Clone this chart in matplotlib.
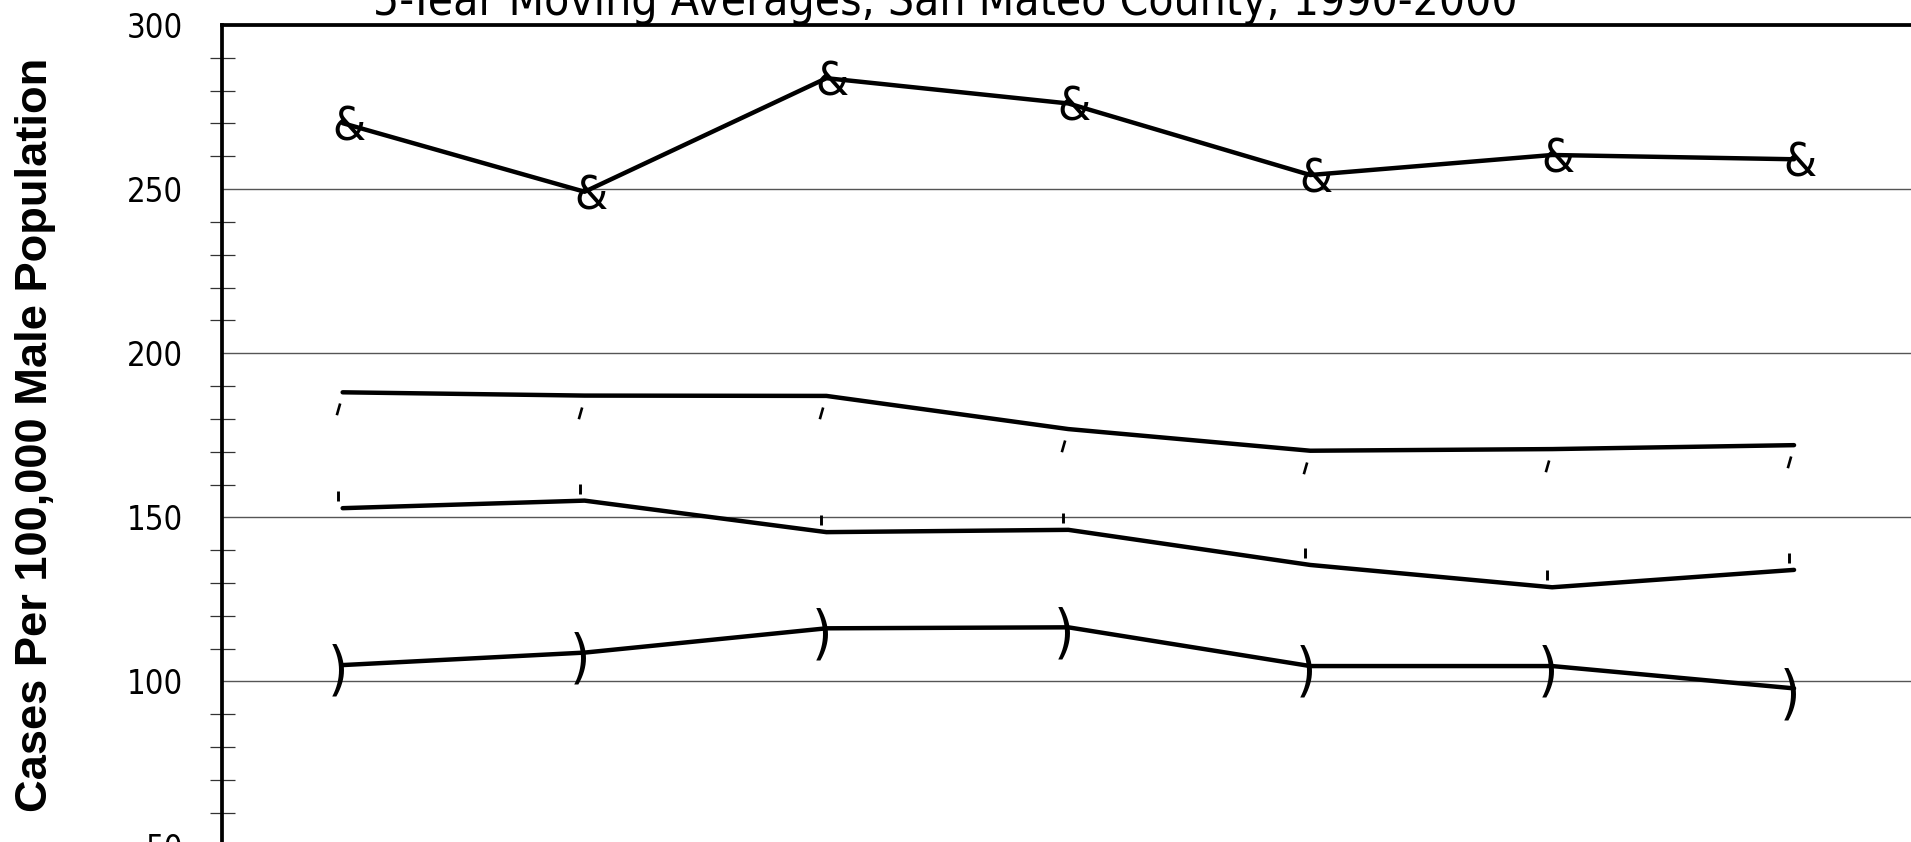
import matplotlib
matplotlib.use("Agg")
import matplotlib.pyplot as plt
from matplotlib import font_manager
from matplotlib.ticker import MultipleLocator, FormatStrFormatter

# values (cases per 100,000 male population)
periods = ["1990-94", "1991-95", "1992-96", "1993-97", "1994-98", "1995-99", "1996-00"]
series_amp = [270.1, 249.2, 283.8, 276.1, 254.3, 260.4, 259.1]
series_slash = [188.1, 187.1, 187.0, 176.9, 170.3, 170.8, 172.0]
series_bar = [152.8, 155.1, 145.5, 146.2, 135.5, 128.7, 134.0]
series_paren = [105.0, 108.8, 116.2, 116.5, 104.7, 104.7, 97.9]

title = "5-Year Moving Averages, San Mateo County, 1990-2000"
ylabel = "Cases Per 100,000 Male Population"

# narrow sans (Tahoma-like) if a condensed DejaVu is around
cond = font_manager.findfont(font_manager.FontProperties(family="DejaVu Sans", stretch="condensed"))
plt.rcParams["font.family"] = ["DejaVu Sans"]
if "Condensed" in cond:
    plt.rcParams["font.stretch"] = "condensed"

fig = plt.figure(figsize=(19.11, 8.42), dpi=100)
ax = fig.add_axes([0.11601, -0.00428, 0.88608, 0.97458])

x = list(range(len(periods)))

# lines
for s in (series_amp, series_slash, series_bar, series_paren):
    ax.plot(x, s, color="black", lw=3.2, solid_capstyle="round",
            solid_joinstyle="round", zorder=3)

# marker glyphs
for xi, yi in zip(x, series_amp):
    ax.annotate("&", (xi, yi), xytext=(4.3, 0), textcoords="offset points",
                ha="center", va="center_baseline", fontsize=34, zorder=4)
for xi, yi in zip(x, series_paren):
    ax.annotate(")", (xi, yi), xytext=(-3.2, -1), textcoords="offset points",
                ha="center", va="center_baseline", fontsize=42,
                fontweight="light", zorder=4)

# small strokes sitting below / above the two middle lines
slash_marker = [(-0.294, -1.0), (-0.147, -0.485)]
bar_marker = [(-0.30, 0.40), (-0.30, 1.0)]
ax.plot(x, series_slash, ls="none", marker=slash_marker, ms=32.7, mew=1.9,
        mec="black", mfc="none", zorder=4)
ax.plot(x, series_bar, ls="none", marker=bar_marker, ms=23.9, mew=2.1,
        mec="black", mfc="none", zorder=4)

ax.set_xlim(-0.5, 6.5)
ax.set_ylim(50, 300)
# period labels sit below the visible area of the original chart
ax.set_xticks(x, periods)
ax.tick_params(axis="x", length=0, labelbottom=False)

ax.yaxis.set_major_locator(MultipleLocator(50))
ax.yaxis.set_minor_locator(MultipleLocator(10))
ax.yaxis.set_major_formatter(FormatStrFormatter("%d"))
ax.tick_params(axis="y", which="major", length=0, pad=28, labelsize=23.5)
ax.tick_params(axis="y", which="minor", direction="inout", length=18,
               width=0.9, color="#333333")
ax.grid(axis="y", which="major", color="#555555", lw=1.0)
ax.set_axisbelow(True)

ax.spines["right"].set_visible(False)
for side in ("left", "top"):
    ax.spines[side].set_linewidth(2.7)
    ax.spines[side].set_color("black")

ax.set_ylabel(ylabel, fontsize=32.6, fontweight="bold", family="Liberation Sans",
              fontstretch="normal")
ax.yaxis.set_label_coords(-0.0977, 0.5)

fig.text(945 / 1911, 1 - 15 / 842, title, ha="center", va="baseline", fontsize=33)

fig.savefig("out.png", dpi=100)
